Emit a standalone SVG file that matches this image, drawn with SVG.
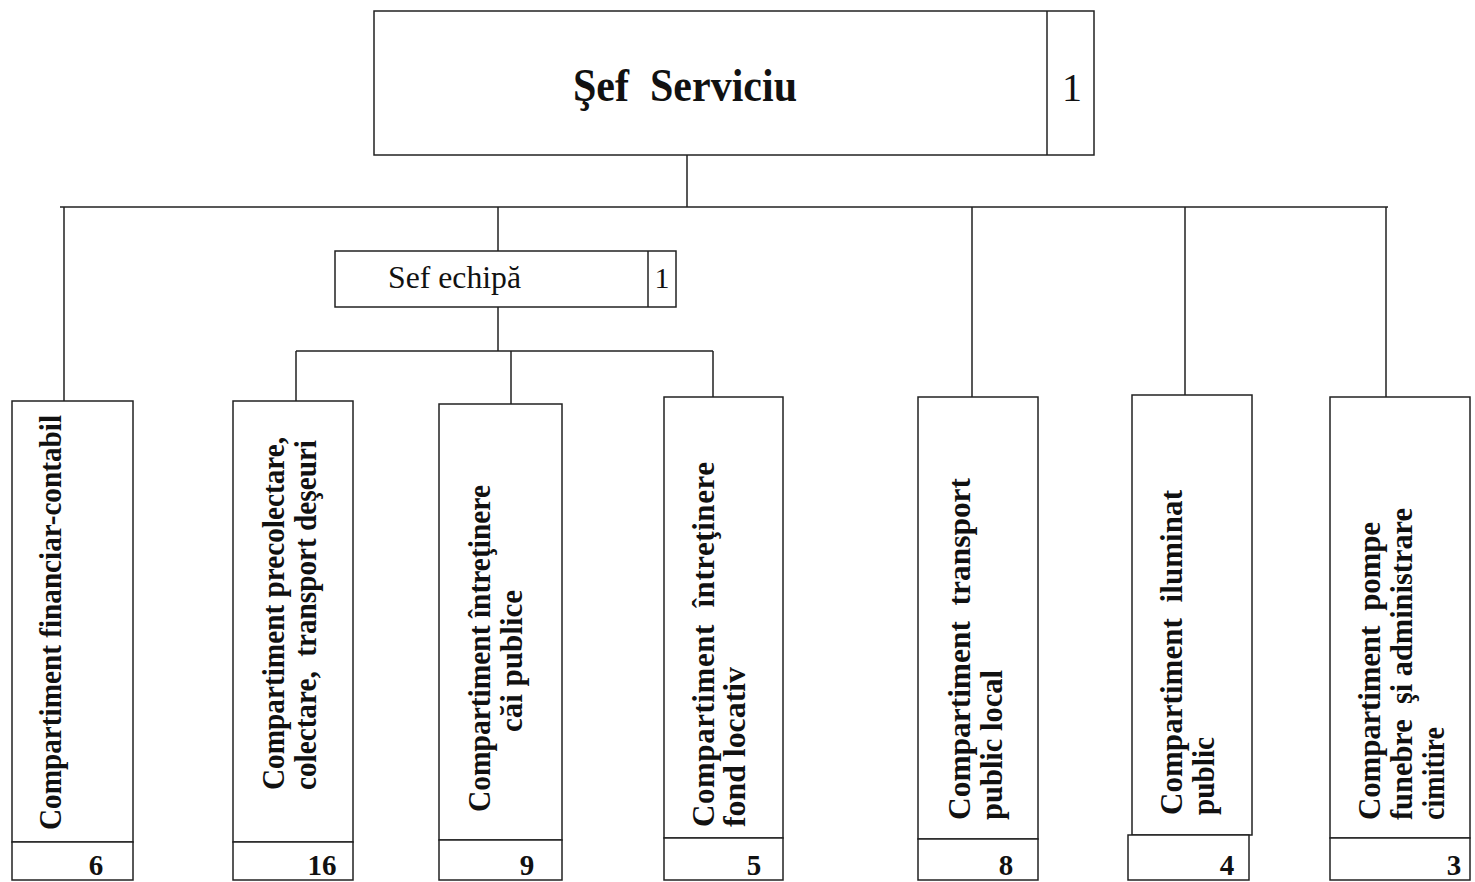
<svg xmlns="http://www.w3.org/2000/svg" width="1475" height="882" viewBox="0 0 1475 882">
<style>
.bx{fill:#fff;stroke:#222;stroke-width:1.5}
.ln{fill:none;stroke:#222;stroke-width:1.5}
.vt{font-family:"Liberation Serif","Times New Roman",serif;font-weight:bold;font-size:31px;fill:#111}
.num{font-family:"Liberation Serif","Times New Roman",serif;font-weight:bold;font-size:29px;fill:#111;text-anchor:middle}
.reg{font-family:"Liberation Serif","Times New Roman",serif;fill:#111}
</style>
<rect width="1475" height="882" fill="#fff"/>
<g id="connectors">
<path class="ln" d="M687,155 V207 M60,207 H1388 M64,207 V401 M498,207 V251 M972,207 V397 M1185,207 V395 M1386,207 V397"/>
<path class="ln" d="M498,307 V351 M296,351 H713 M296,351 V401 M511,351 V404 M713,351 V397"/>
</g>
<g id="sef-serviciu">
<rect class="bx" x="374" y="11" width="720" height="144"/>
<line class="ln" x1="1047" y1="11" x2="1047" y2="155"/>
<text class="reg" x="573" y="101" font-size="46" font-weight="bold" textLength="224" lengthAdjust="spacingAndGlyphs" xml:space="preserve">Şef  Serviciu</text>
<text class="reg" x="1072" y="101" font-size="40" text-anchor="middle">1</text>
</g>
<g id="sef-echipa">
<rect class="bx" x="335" y="251" width="341" height="56"/>
<line class="ln" x1="648" y1="251" x2="648" y2="307"/>
<text class="reg" x="388" y="288" font-size="32" textLength="133" lengthAdjust="spacingAndGlyphs">Sef echipă</text>
<text class="reg" x="662" y="288" font-size="30" text-anchor="middle">1</text>
</g>
<g id="comp-financiar">
<rect class="bx" x="12" y="401" width="121" height="441"/>
<rect class="bx" x="12" y="842" width="121" height="38"/>
<text class="vt" transform="translate(61,830) rotate(-90)" textLength="415" lengthAdjust="spacingAndGlyphs">Compartiment financiar-contabil</text>
<text class="num" x="96" y="875">6</text>
</g>
<g id="comp-precolectare">
<rect class="bx" x="233" y="401" width="120" height="441"/>
<rect class="bx" x="233" y="842" width="120" height="38"/>
<text class="vt" transform="translate(284,790) rotate(-90)" textLength="353" lengthAdjust="spacingAndGlyphs">Compartiment precolectare,</text>
<text class="vt" transform="translate(316,790) rotate(-90)" textLength="350" lengthAdjust="spacingAndGlyphs" xml:space="preserve">colectare,  transport deşeuri</text>
<text class="num" x="322" y="875">16</text>
</g>
<g id="comp-cai-publice">
<rect class="bx" x="439" y="404" width="123" height="436"/>
<rect class="bx" x="439" y="840" width="123" height="40"/>
<text class="vt" transform="translate(490,812) rotate(-90)" textLength="327" lengthAdjust="spacingAndGlyphs">Compartiment întreţinere</text>
<text class="vt" transform="translate(522,732) rotate(-90)" textLength="142" lengthAdjust="spacingAndGlyphs">căi publice</text>
<text class="num" x="527" y="875">9</text>
</g>
<g id="comp-fond-locativ">
<rect class="bx" x="664" y="397" width="119" height="441"/>
<rect class="bx" x="664" y="838" width="119" height="42"/>
<text class="vt" transform="translate(714,827) rotate(-90)" textLength="365" xml:space="preserve">Compartiment  întreţinere</text>
<text class="vt" transform="translate(745,827) rotate(-90)" textLength="160" lengthAdjust="spacingAndGlyphs">fond locativ</text>
<text class="num" x="754" y="875">5</text>
</g>
<g id="comp-transport">
<rect class="bx" x="918" y="397" width="120" height="442"/>
<rect class="bx" x="918" y="839" width="120" height="41"/>
<text class="vt" transform="translate(970,820) rotate(-90)" textLength="342" lengthAdjust="spacingAndGlyphs" xml:space="preserve">Compartiment  transport</text>
<text class="vt" transform="translate(1002,820) rotate(-90)" textLength="150" lengthAdjust="spacingAndGlyphs">public local</text>
<text class="num" x="1006" y="875">8</text>
</g>
<g id="comp-iluminat">
<rect class="bx" x="1132" y="395" width="120" height="440"/>
<rect class="bx" x="1128" y="835" width="121" height="45"/>
<text class="vt" transform="translate(1182,815) rotate(-90)" textLength="325" xml:space="preserve">Compartiment  iluminat</text>
<text class="vt" transform="translate(1214,815) rotate(-90)" textLength="78" lengthAdjust="spacingAndGlyphs">public</text>
<text class="num" x="1227" y="875">4</text>
</g>
<g id="comp-pompe-funebre">
<rect class="bx" x="1330" y="397" width="140" height="441"/>
<rect class="bx" x="1330" y="838" width="140" height="42"/>
<text class="vt" transform="translate(1380,820) rotate(-90)" textLength="298" xml:space="preserve">Compartiment  pompe</text>
<text class="vt" transform="translate(1412,820) rotate(-90)" textLength="312" lengthAdjust="spacingAndGlyphs" xml:space="preserve">funebre  şi administrare</text>
<text class="vt" transform="translate(1444,820) rotate(-90)" textLength="93" lengthAdjust="spacingAndGlyphs">cimitire</text>
<text class="num" x="1454" y="875">3</text>
</g>
</svg>
